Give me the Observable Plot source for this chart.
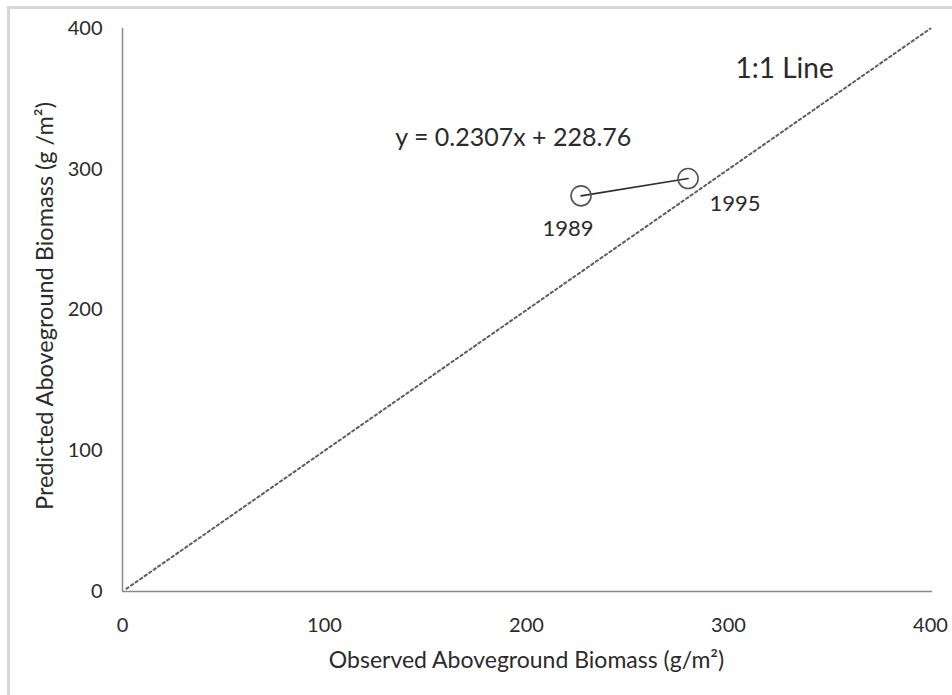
<!DOCTYPE html>
<html>
<head>
<meta charset="utf-8">
<script src="https://cdn.jsdelivr.net/npm/d3@7"></script>
<script src="https://cdn.jsdelivr.net/npm/@observablehq/plot@0.6"></script>
<style>
  body { margin: 0; background: #fff; }
  #chart { position: relative; width: 952px; height: 695px; overflow: hidden; }
  #chart::before {
    content: ""; position: absolute; left: 7px; top: 6px; right: -10px; bottom: -10px;
    border-top: 3px solid #d6d6d6; border-left: 3px solid #d6d6d6; pointer-events: none;
  }
</style>
</head>
<body>
<div id="chart"></div>
<script>
// Observed vs. predicted aboveground biomass (g/m²)
const years = ["1989", "1995"];
const observed = [227, 280];
const predicted = [281.1, 293.4];
const xTicks = [0, 100, 200, 300, 400];
const yTicks = [0, 100, 200, 300, 400];
const oneToOne = [2, 400];
const fitLabel = "y = 0.2307x + 228.76";
const oneToOneLabel = "1:1 Line";
const xTitle = "Observed Aboveground Biomass (g/m²)";
const yTitle = "Predicted Aboveground Biomass (g /m²)";

const points = years.map((year, i) => ({year, observed: observed[i], predicted: predicted[i]}));
const ink = "#2b2b2b";

const chart = Plot.plot({
  width: 952,
  height: 695,
  marginLeft: 122,
  marginRight: 22,
  marginTop: 28,
  marginBottom: 104,
  style: {fontFamily: "Lato, sans-serif", color: ink, background: "transparent"},
  x: {domain: [0, 400]},
  y: {domain: [0, 400]},
  marks: [
    // axis lines
    Plot.ruleX([0], {y1: 0, y2: 400, stroke: "#8a8a8a", strokeWidth: 1.5}),
    Plot.ruleY([0], {x1: 0, x2: 401, stroke: "#8a8a8a", strokeWidth: 1.5}),
    Plot.axisX(xTicks, {tickSize: 0, tickPadding: 26, fontSize: 20, label: null, fill: ink}),
    Plot.axisY(yTicks, {tickSize: 0, tickPadding: 20, fontSize: 20, label: null, fill: ink}),
    // 1:1 reference line (dotted)
    Plot.line(oneToOne, {x: d => d, y: d => d, stroke: "#5e5e5e", strokeWidth: 2, strokeDasharray: "2.5,3"}),
    // connected observations
    Plot.line(points, {x: "observed", y: "predicted", stroke: "#2e2e2e", strokeWidth: 1.6}),
    Plot.dot(points, {x: "observed", y: "predicted", r: 10, stroke: "#555", strokeWidth: 1.6, fill: "none"}),
    Plot.text(points.filter(d => d.year === "1989"), {x: "observed", y: "predicted", text: "year", dx: -13, dy: 33, fontSize: 22, fill: ink}),
    Plot.text(points.filter(d => d.year === "1995"), {x: "observed", y: "predicted", text: "year", dx: 47, dy: 25, fontSize: 22, fill: ink}),
    // annotations
    Plot.text([fitLabel], {x: 135, y: 322, text: d => d, textAnchor: "start", fontSize: 25, fill: ink}),
    Plot.text([oneToOneLabel], {x: 303.5, y: 371.5, text: d => d, textAnchor: "start", fontSize: 28, fill: ink}),
    // axis titles
    Plot.text([xTitle], {frameAnchor: "bottom", dy: 76, text: d => d, fontSize: 23, fill: ink}),
    Plot.text([yTitle], {frameAnchor: "left", textAnchor: "middle", dx: -77, dy: -4, rotate: -90, text: d => d, fontSize: 23.5, fill: ink})
  ]
});
document.getElementById("chart").appendChild(chart);
</script>
</body>
</html>
